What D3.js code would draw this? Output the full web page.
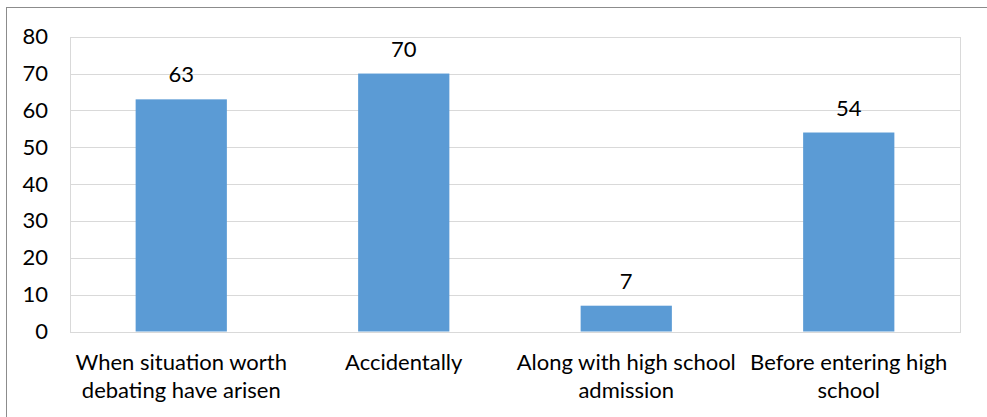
<!DOCTYPE html>
<html>
<head>
<meta charset="utf-8">
<script src="https://cdn.jsdelivr.net/npm/d3@7"></script>
<style>
  html, body { margin: 0; padding: 0; background: #fff; }
  svg { display: block; }
  text { font-family: Lato, "Open Sans", sans-serif; fill: #000; }
</style>
</head>
<body>
<svg id="chart" width="987" height="417"></svg>
<script>
// Chart data
const categories = [
  ["When situation worth", "debating have arisen"],
  ["Accidentally"],
  ["Along with high school", "admission"],
  ["Before entering high", "school"]
];
const values = [63, 70, 7, 54];
const yTicks = [0, 10, 20, 30, 40, 50, 60, 70, 80];

const FONT = "22px";
const svg = d3.select("#chart");
const W = 987, H = 417;
const plot = { left: 70, top: 36.7, right: 960, bottom: 331.5 };

// outer frame
svg.append("rect")
  .attr("x", 6.5).attr("y", 7.5)
  .attr("width", W + 10).attr("height", H + 10)
  .attr("fill", "none").attr("stroke", "#8c8c8c").attr("stroke-width", 1);

const x = d3.scaleBand()
  .domain(d3.range(categories.length))
  .range([plot.left, plot.right])
  .paddingInner(0.59).paddingOuter(0.295);

const y = d3.scaleLinear().domain([0, 80]).range([plot.bottom, plot.top]);

// gridlines
svg.append("g").selectAll("line").data(yTicks).join("line")
  .attr("x1", plot.left).attr("x2", plot.right)
  .attr("y1", d => Math.round(y(d)) + 0.5).attr("y2", d => Math.round(y(d)) + 0.5)
  .attr("stroke", "#d9d9d9").attr("stroke-width", 1);

// plot border
svg.append("rect")
  .attr("x", plot.left + 0.5).attr("y", Math.round(plot.top) + 0.5)
  .attr("width", plot.right - plot.left).attr("height", Math.round(plot.bottom) - Math.round(plot.top))
  .attr("fill", "none").attr("stroke", "#d9d9d9");

// y axis labels
const yAxis = d3.axisLeft(y).tickValues(yTicks).tickSize(0).tickPadding(22);
const gy = svg.append("g").attr("transform", `translate(${plot.left},0)`).call(yAxis);
gy.select(".domain").remove();
gy.selectAll("text").style("font-size", FONT).style("font-family", "Lato, 'Open Sans', sans-serif").attr("fill", "#000");

// bars
svg.append("g").selectAll("rect").data(values).join("rect")
  .attr("x", (d, i) => x(i))
  .attr("width", x.bandwidth())
  .attr("y", d => y(d))
  .attr("height", d => y(0) - y(d))
  .attr("fill", "#5b9bd5");

// value labels
svg.append("g").selectAll("text").data(values).join("text")
  .attr("x", (d, i) => x(i) + x.bandwidth() / 2)
  .attr("y", d => y(d) - 17)
  .attr("text-anchor", "middle")
  .style("font-size", FONT)
  .text(d => d);

// category labels
const xc = d3.scaleBand().domain(d3.range(categories.length)).range([plot.left, plot.right]);
const cat = svg.append("g").selectAll("text").data(categories).join("text")
  .attr("text-anchor", "middle")
  .style("font-size", FONT);
cat.each(function(lines, i) {
  const t = d3.select(this);
  lines.forEach((ln, j) => {
    t.append("tspan")
      .attr("x", xc(i) + xc.bandwidth() / 2)
      .attr("y", 370 + j * 27.5)
      .text(ln);
  });
});
</script>
</body>
</html>
